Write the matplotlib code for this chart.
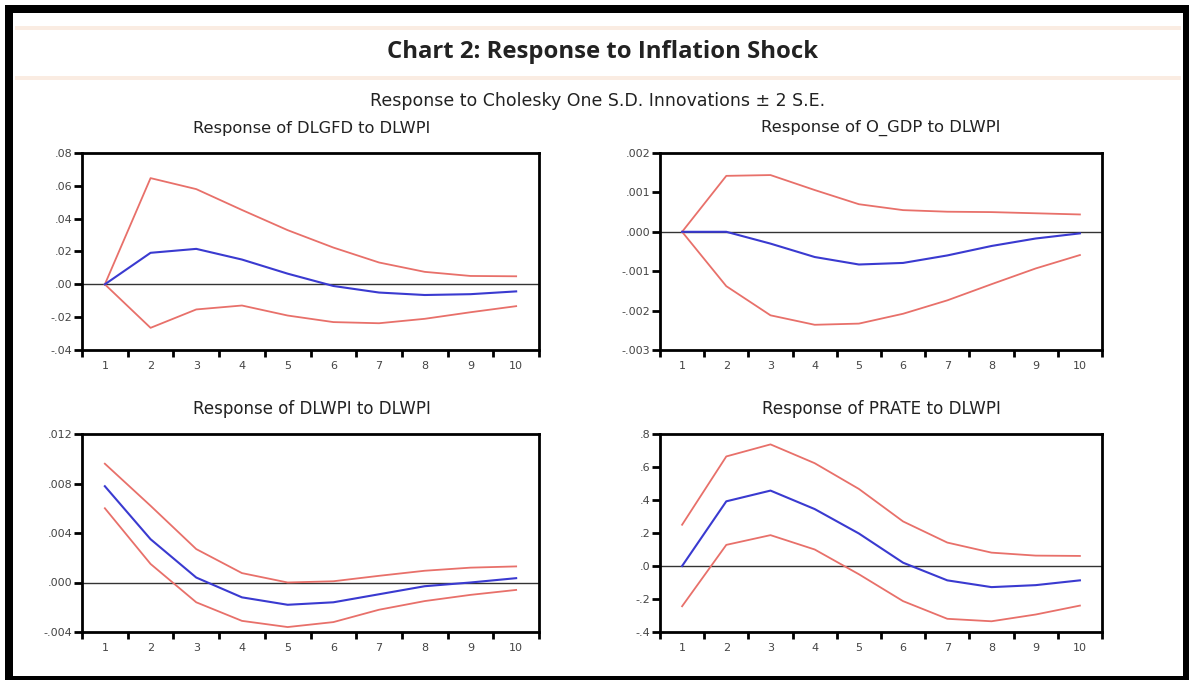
import numpy as np
import matplotlib.pyplot as plt
from matplotlib.patches import Rectangle

plt.rcParams['font.family'] = ['DejaVu Sans']

periods = np.arange(1, 11)

# Response of DLGFD to DLWPI
dlgfd_mid = [0.0, 0.0192, 0.0216, 0.0151, 0.0065, -0.001, -0.005, -0.0065, -0.006, -0.0043]
dlgfd_up = [0.0, 0.0647, 0.058, 0.0453, 0.033, 0.0224, 0.0133, 0.0076, 0.0051, 0.0049]
dlgfd_lo = [0.0, -0.0265, -0.0153, -0.0129, -0.019, -0.023, -0.0237, -0.021, -0.017, -0.0133]

# Response of O_GDP to DLWPI
ogdp_mid = [0.0, 0.0, -0.0003, -0.00064, -0.00083, -0.00079, -0.0006, -0.00036, -0.00017, -0.00004]
ogdp_up = [0.0, 0.00142, 0.00144, 0.00106, 0.0007, 0.00055, 0.00051, 0.0005, 0.00047, 0.00044]
ogdp_lo = [0.0, -0.00138, -0.00212, -0.00236, -0.00233, -0.00208, -0.00174, -0.00133, -0.00093, -0.00059]

# Response of DLWPI to DLWPI
dlwpi_mid = [0.00778, 0.0035, 0.0004, -0.0012, -0.0018, -0.0016, -0.00095, -0.0003, 0.0, 0.00035]
dlwpi_up = [0.0096, 0.0062, 0.0027, 0.00076, 0.0, 0.0001, 0.00054, 0.00095, 0.0012, 0.0013]
dlwpi_lo = [0.006, 0.0015, -0.0016, -0.0031, -0.0036, -0.0032, -0.0022, -0.0015, -0.001, -0.0006]

# Response of PRATE to DLWPI
prate_mid = [0.0, 0.392, 0.457, 0.345, 0.197, 0.02, -0.087, -0.128, -0.116, -0.087]
prate_up = [0.25, 0.664, 0.737, 0.623, 0.467, 0.27, 0.142, 0.081, 0.063, 0.061]
prate_lo = [-0.244, 0.128, 0.187, 0.1, -0.05, -0.213, -0.32, -0.335, -0.294, -0.24]

titles = ["Response of DLGFD to DLWPI", "Response of O_GDP to DLWPI",
          "Response of DLWPI to DLWPI", "Response of PRATE to DLWPI"]
yticks = [[0.08, 0.06, 0.04, 0.02, 0.0, -0.02, -0.04],
          [0.002, 0.001, 0.0, -0.001, -0.002, -0.003],
          [0.012, 0.008, 0.004, 0.0, -0.004],
          [0.8, 0.6, 0.4, 0.2, 0.0, -0.2, -0.4]]
ylabels = [[".08", ".06", ".04", ".02", ".00", "-.02", "-.04"],
           [".002", ".001", ".000", "-.001", "-.002", "-.003"],
           [".012", ".008", ".004", ".000", "-.004"],
           [".8", ".6", ".4", ".2", ".0", "-.2", "-.4"]]
series = [(dlgfd_mid, dlgfd_up, dlgfd_lo), (ogdp_mid, ogdp_up, ogdp_lo),
          (dlwpi_mid, dlwpi_up, dlwpi_lo), (prate_mid, prate_up, prate_lo)]

W, H = 1189, 680
fig = plt.figure(figsize=(W / 100, H / 100), dpi=100)
renderer = fig.canvas.get_renderer()


def fit_width(t, target):
    # scale the font so the text spans about target pixels
    w = t.get_window_extent(renderer).width
    t.set_fontsize(t.get_fontsize() * target / w)


# black frame round the picture
fig.patches.append(Rectangle((5 / W, 0), 1 - 5 / W, 1 - 5 / H, transform=fig.transFigure,
                             facecolor='black', edgecolor='none', zorder=-3))
fig.patches.append(Rectangle((13 / W, 4 / H), (1183 - 13) / W, (676 - 13) / H,
                             transform=fig.transFigure, facecolor='white',
                             edgecolor='none', zorder=-2))
# faint bands of the title strip
for yb in (27, 77):
    fig.patches.append(Rectangle((15 / W, 1 - (yb + 3) / H), (1181 - 15) / W, 4 / H,
                                 transform=fig.transFigure, facecolor='#faece2',
                                 edgecolor='none', zorder=-1))

t = fig.text(603 / W, 1 - 52 / H, "Chart 2: Response to Inflation Shock", ha='center',
             va='center', fontsize=15, fontweight='bold', color='#222222',
             family=['Open Sans', 'DejaVu Sans'])
fit_width(t, 430)
t = fig.text(598 / W, 1 - 101 / H, "Response to Cholesky One S.D. Innovations \u00b1 2 S.E.",
             ha='center', va='center', fontsize=11, color='#222222')
fit_width(t, 455)

boxes = [(82, 539, 153, 350), (660, 1102, 153, 350),
         (82, 539, 434, 632), (660, 1102, 434, 632)]
title_x = [312, 881, 312, 881]

for i, (l, r, t_, b) in enumerate(boxes):
    ax = fig.add_axes([l / W, 1 - b / H, (r - l) / W, (b - t_) / H])
    mid, up, lo = series[i]
    ax.axhline(0, color='#333333', lw=1.0, zorder=1)
    ax.plot(periods, up, color='#e8706a', lw=1.3, zorder=2)
    ax.plot(periods, lo, color='#e8706a', lw=1.3, zorder=2)
    ax.plot(periods, mid, color='#3a3ad0', lw=1.5, zorder=3)
    ax.set_xlim(0.5, 10.5)
    ax.set_ylim(yticks[i][-1], yticks[i][0])
    ax.set_yticks(yticks[i])
    ax.set_yticklabels(ylabels[i])
    ax.set_xticks(periods)
    ax.set_xticks(np.arange(0.5, 11, 1.0), minor=True)
    ax.tick_params(axis='x', which='major', length=0, pad=8, labelsize=8, labelcolor='#444444')
    ax.tick_params(axis='x', which='minor', length=5, width=2, direction='out', color='black')
    ax.tick_params(axis='y', length=6, width=2, direction='out', pad=1, labelsize=8,
                   labelcolor='#444444')
    for s in ax.spines.values():
        s.set_linewidth(2)
    tt = fig.text(title_x[i] / W, 1 - (t_ - 25) / H, titles[i], ha='center', va='center',
                  fontsize=10, color='#222222')
    fit_width(tt, 238)

fig.savefig('out.png', dpi=100)
